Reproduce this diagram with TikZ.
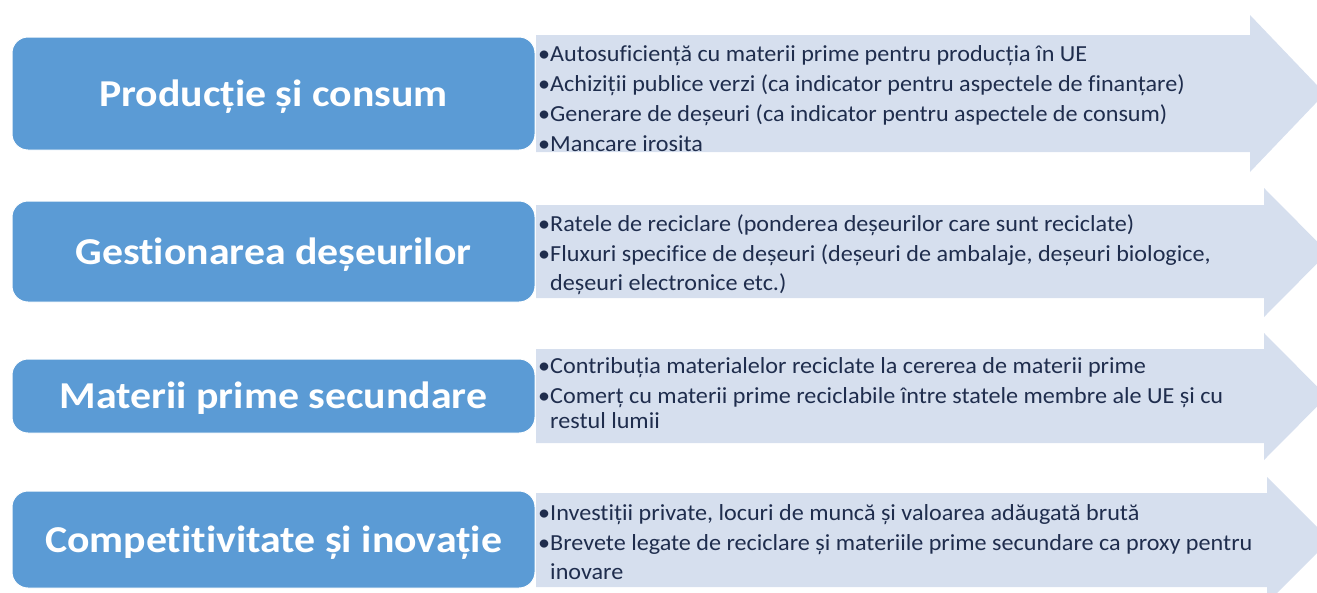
\documentclass[tikz,border=0pt]{standalone}
\usepackage{fontspec}
\setmainfont{Carlito}
\newfontfamily\itemfont[FakeStretch=1.05, Ligatures=NoCommon]{Carlito}
\newfontfamily\titlefont[FakeStretch=1.1, Ligatures=NoCommon]{Carlito}
\usetikzlibrary{calc}

\definecolor{boxblue}{HTML}{5B9BD5}
\definecolor{arrowfill}{HTML}{D6DFEE}
\definecolor{itemtext}{HTML}{1F2D4D}

\newcommand{\itm}{\textbullet}
\newcommand{\cont}{\phantom{\textbullet}}

\begin{document}
\begin{tikzpicture}[x=1pt, y=-1pt,
    titlebox/.style={rectangle, rounded corners=16pt, fill=boxblue,
        draw=white, line width=1pt, text=white, inner sep=0pt,
        minimum width=523pt, text height=25pt, text depth=0pt,
        font=\titlefont\fontsize{38}{40}\selectfont\bfseries},
    itemlist/.style={anchor=base west, inner sep=0pt, align=left,
        text=itemtext, font=\itemfont\fontsize{23}{30}\selectfont}]

    % Page is the size of the reference, 1 px = 1 pt
    \useasboundingbox (0, 0) rectangle (1317, 592);
    \clip (0, 0) rectangle (1317, 592);

    \pgfmathsetmacro{\bodyleft}{536}

    % Light arrows behind the boxes: body top, body bottom,
    % start of the head, head top, head bottom, tip
    \foreach \bt/\bb/\hx/\ht/\hb/\tx in {35/152/1250/15/172/1325,
                                          205/298/1264/188/317/1328,
                                          349/443/1264/333/460/1327,
                                          493/587/1267/477/603/1330}
    {
        \fill[arrowfill] (\bodyleft, \bt) -- (\hx, \bt) -- (\hx, \ht)
            -- (\tx, {(\ht+\hb)/2}) -- (\hx, \hb) -- (\hx, \bb)
            -- (\bodyleft, \bb) -- cycle;
    }

    % Blue boxes with the four themes
    \node[titlebox, minimum height=113pt] (prod) at (273.5, 93.5)
        {Producție și consum};
    \node[titlebox, minimum height=101pt] (gest) at (273.5, 251.5)
        {Gestionarea deșeurilor};
    \node[titlebox, minimum height=74pt] (mat) at (273.5, 396)
        {Materii prime secundare};
    \node[titlebox, minimum height=97pt] (comp) at (273.5, 539.5)
        {Competitivitate și inovație};

    % Indicators written in the arrows (placed on the last baseline)
    \node[itemlist] (prodlist) at (538, 151.5)
        {\itm Autosuficiență cu materii prime pentru producția în UE\\
         \itm Achiziții publice verzi (ca indicator pentru aspectele de finanțare)\\
         \itm Generare de deșeuri (ca indicator pentru aspectele de consum)\\
         \itm Mancare irosita};
    \node[itemlist] (gestlist) at (538, 290.5)
        {\itm Ratele de reciclare (ponderea deșeurilor care sunt reciclate)\\
         \itm Fluxuri specifice de deșeuri (deșeuri de ambalaje, deșeuri biologice,\\[-1pt]
         \cont deșeuri electronice etc.)};
    \node[itemlist] (matlist) at (538, 428.5)
        {\itm Contribuția materialelor reciclate la cererea de materii prime\\
         \itm Comerț cu materii prime reciclabile între statele membre ale UE și cu\\[-5pt]
         \cont restul lumii};
    \node[itemlist] (complist) at (538, 579.5)
        {\itm Investiții private, locuri de muncă și valoarea adăugată brută\\
         \itm Brevete legate de reciclare și materiile prime secundare ca proxy pentru\\[-1pt]
         \cont inovare};

\end{tikzpicture}
\end{document}
